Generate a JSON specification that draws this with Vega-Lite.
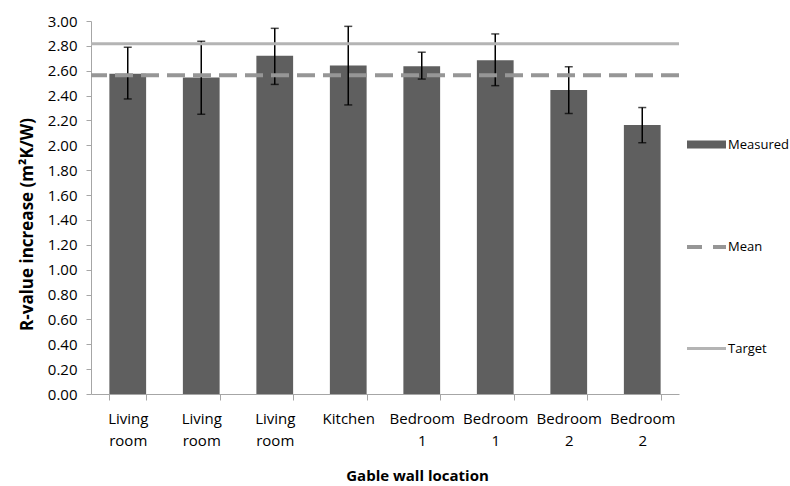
{
  "$schema": "https://vega.github.io/schema/vega-lite/v6.json",
  "width": 588,
  "height": 373,
  "autosize": "none",
  "padding": {"left": 91, "top": 21, "right": 111, "bottom": 92},
  "background": "white",
  "config": {
    "view": {"stroke": null},
    "font": "Open Sans",
    "axis": {"labelFont": "Open Sans", "titleFont": "Open Sans", "labelColor": "#000000", "titleColor": "#000000", "domainColor": "#a6a6a6", "tickColor": "#a6a6a6", "grid": false},
    "axisY": {"tickCount": 20, "labelOverlap": false}
  },
  "datasets": {
    "bars": [
      {"id": 1, "location": "Living room", "value": 2.576, "lo": 2.373, "hi": 2.789},
      {"id": 2, "location": "Living room", "value": 2.546, "lo": 2.25, "hi": 2.837},
      {"id": 3, "location": "Living room", "value": 2.72, "lo": 2.49, "hi": 2.941},
      {"id": 4, "location": "Kitchen", "value": 2.642, "lo": 2.325, "hi": 2.957},
      {"id": 5, "location": "Bedroom 1", "value": 2.637, "lo": 2.533, "hi": 2.749},
      {"id": 6, "location": "Bedroom 1", "value": 2.685, "lo": 2.48, "hi": 2.896},
      {"id": 7, "location": "Bedroom 2", "value": 2.446, "lo": 2.256, "hi": 2.632},
      {"id": 8, "location": "Bedroom 2", "value": 2.163, "lo": 2.021, "hi": 2.304}
    ],
    "refs": [{"mean": 2.563, "target": 2.818}]
  },
  "layer": [
    {
      "data": {"name": "bars"},
      "mark": {"type": "bar", "fill": "#5f5f5f"},
      "encoding": {
        "x": {
          "field": "id", "type": "ordinal",
          "scale": {"paddingInner": 0.5, "paddingOuter": 0.25},
          "axis": {
            "title": "Gable wall location",
            "titleFontSize": 15, "titleFontWeight": "bold", "titlePadding": 20, "titleX": 326,
            "labelAngle": 0, "labelFontSize": 15, "labelPadding": 11, "labelLineHeight": 22,
            "tickBand": "extent", "tickSize": 6,
            "labelExpr": "[['Living','room'],['Living','room'],['Living','room'],['Kitchen',''],['Bedroom','1'],['Bedroom','1'],['Bedroom','2'],['Bedroom','2']][datum.value-1]"
          }
        },
        "y": {
          "field": "value", "type": "quantitative",
          "title": "R-value increase (m²K/W)",
          "scale": {"domain": [0, 3], "nice": false},
          "axis": {
            "titleFontSize": 17, "titleFontWeight": "bold", "titlePadding": 11, "titleY": 203,
            "values": [0, 0.2, 0.4, 0.6, 0.8, 1.0, 1.2, 1.4, 1.6, 1.8, 2.0, 2.2, 2.4, 2.6, 2.8, 3.0],
            "labelOverlap": false, "tickCount": 20,
            "format": ".2f", "labelFontSize": 15, "labelPadding": 9, "tickSize": 5
          }
        },
        "color": {
          "datum": "Measured",
          "scale": {"domain": ["Measured", "Mean", "Target"], "range": ["#5f5f5f", "#969696", "#b4b4b4"]},
          "legend": {
            "title": null,
            "orient": "none",
            "legendX": 609,
            "legendY": 117,
            "labelFont": "Open Sans",
            "labelFontSize": 13,
            "labelColor": "#000000",
            "labelOffset": 15,
            "rowPadding": 86.5,
            "symbolSize": 1521,
            "encode": {
              "symbols": {
                "update": {
                  "shape": {"signal": "datum.value === 'Measured' ? 'M-1,-0.2H1V0.2H-1Z' : 'M-1,0H1'"},
                  "fill": {"signal": "datum.value === 'Measured' ? '#5f5f5f' : 'transparent'"},
                  "stroke": {"signal": "datum.value === 'Measured' ? 'transparent' : (datum.value === 'Mean' ? '#969696' : '#b4b4b4')"},
                  "strokeWidth": {"signal": "datum.value === 'Measured' ? 0 : (datum.value === 'Mean' ? 4 : 3)"},
                  "strokeDash": {"signal": "datum.value === 'Mean' ? [15, 11] : [1, 0]"}
                }
              }
            }
          }
        }
      }
    },
    {
      "data": {"name": "bars"},
      "mark": {"type": "errorbar", "color": "#000000", "ticks": {"size": 8, "thickness": 1.5, "color": "#000000"}, "rule": {"strokeWidth": 1.5}},
      "encoding": {
        "x": {"field": "id", "type": "ordinal"},
        "y": {"field": "lo", "type": "quantitative", "title": "R-value increase (m²K/W)",
          "axis": {"values": [0, 0.2, 0.4, 0.6, 0.8, 1.0, 1.2, 1.4, 1.6, 1.8, 2.0, 2.2, 2.4, 2.6, 2.8, 3.0], "labelOverlap": false, "tickCount": 20}},
        "y2": {"field": "hi"}
      }
    },
    {
      "data": {"name": "refs"},
      "mark": {"type": "rule", "color": "#969696", "strokeWidth": 4, "strokeDash": [18, 8]},
      "encoding": {"y": {"field": "mean", "type": "quantitative",
        "axis": {"values": [0, 0.2, 0.4, 0.6, 0.8, 1.0, 1.2, 1.4, 1.6, 1.8, 2.0, 2.2, 2.4, 2.6, 2.8, 3.0], "labelOverlap": false, "tickCount": 20}}}
    },
    {
      "data": {"name": "refs"},
      "mark": {"type": "rule", "color": "#b4b4b4", "strokeWidth": 3},
      "encoding": {"y": {"field": "target", "type": "quantitative",
        "axis": {"values": [0, 0.2, 0.4, 0.6, 0.8, 1.0, 1.2, 1.4, 1.6, 1.8, 2.0, 2.2, 2.4, 2.6, 2.8, 3.0], "labelOverlap": false, "tickCount": 20}}}
    }
  ]
}
